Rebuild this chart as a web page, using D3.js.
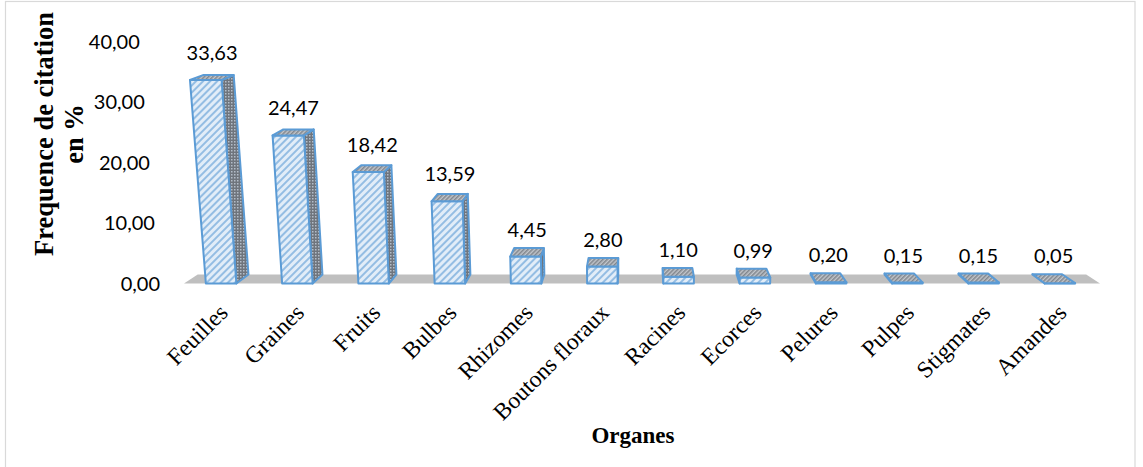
<!DOCTYPE html>
<html>
<head>
<meta charset="utf-8">
<script src="https://cdn.jsdelivr.net/npm/d3@7"></script>
<style>
  html, body { margin: 0; padding: 0; background: #fff; }
  svg { display: block; }
</style>
</head>
<body>
<svg id="chart" width="1143" height="467"></svg>
<script>
// Organes utilisés : fréquence de citation (%)
const organes = ["Feuilles", "Graines", "Fruits", "Bulbes", "Rhizomes", "Boutons floraux",
                 "Racines", "Ecorces", "Pelures", "Pulpes", "Stigmates", "Amandes"];
const frequences = [33.63, 24.47, 18.42, 13.59, 4.45, 2.80, 1.10, 0.99, 0.20, 0.15, 0.15, 0.05];
const yTicks = [0, 10, 20, 30, 40];

const W = 1143, H = 467;
const svg = d3.select("#chart");

const fr = d3.formatLocale({ decimal: ",", thousands: " ", grouping: [3], currency: ["", " €"] });
const fmt = fr.format(".2f");

// Scales
const x = d3.scaleBand().domain(organes).range([183, 1098]).paddingInner(0.6).paddingOuter(0.3);
const y = d3.scaleLinear().domain([0, 40]).range([283.5, 41.5]);
const y0 = y(0);

// Simple perspective: camera above the centre, looking slightly down
const xv = 640, kh = 0.00018, kd = 0.03, depthPx = 9;
function proj(px, h, d) {
  const p = 1 + kh * h - kd * d;
  return [xv + (px - xv) * p, y0 - h - d * depthPx * (1 - h / 450)];
}
const poly = pts => pts.map(p => p.join(",")).join(" ");

// Fill patterns
const defs = svg.append("defs");
const pFront = defs.append("pattern").attr("id", "hatchFront").attr("patternUnits", "userSpaceOnUse")
  .attr("width", 5).attr("height", 5).attr("patternTransform", "rotate(45)");
pFront.append("rect").attr("width", 5).attr("height", 5).attr("fill", "#e2edf8");
pFront.append("line").attr("x1", 1).attr("y1", 0).attr("x2", 1).attr("y2", 5)
  .attr("stroke", "#6aa3d8").attr("stroke-width", 1.3);

const pSide = defs.append("pattern").attr("id", "dotSide").attr("patternUnits", "userSpaceOnUse")
  .attr("width", 3).attr("height", 3);
pSide.append("rect").attr("width", 3).attr("height", 3).attr("fill", "#6f757d");
pSide.append("rect").attr("x", 0).attr("y", 0).attr("width", 1.5).attr("height", 1.5).attr("fill", "#b3bdc9");

const pTop = defs.append("pattern").attr("id", "hatchTop").attr("patternUnits", "userSpaceOnUse")
  .attr("width", 3).attr("height", 3).attr("patternTransform", "rotate(45)");
pTop.append("rect").attr("width", 3).attr("height", 3).attr("fill", "#c2c6cc");
pTop.append("line").attr("x1", 0.8).attr("y1", 0).attr("x2", 0.8).attr("y2", 3)
  .attr("stroke", "#7b8087").attr("stroke-width", 1.4);

// Chart frame
svg.append("rect").attr("x", 5.5).attr("y", 1.5).attr("width", 1129.5).attr("height", 470)
  .attr("fill", "#fff").attr("stroke", "#d9d9d9").attr("stroke-width", 1.2);

// Floor
svg.append("polygon")
  .attr("points", poly([proj(184, 0, 0), proj(1100, 0, 0), proj(1100, 0, 1), proj(184, 0, 1)]))
  .attr("fill", "#bfbfbf");

// Bars
const stroke = "#5b9bd5";
const bars = svg.append("g").selectAll("g").data(organes.map((o, i) => ({ o, v: frequences[i] })))
  .join("g");

bars.each(function(d) {
  const g = d3.select(this);
  const x0 = x(d.o), x1 = x0 + x.bandwidth();
  const h = y0 - y(d.v);
  const FBL = proj(x0, 0, 0), FBR = proj(x1, 0, 0), FTR = proj(x1, h, 0), FTL = proj(x0, h, 0);
  const BBL = proj(x0, 0, 1), BBR = proj(x1, 0, 1), BTR = proj(x1, h, 1), BTL = proj(x0, h, 1);
  const style = sel => sel.attr("stroke", stroke).attr("stroke-width", 2).attr("stroke-linejoin", "round");
  if (x1 < xv) style(g.append("polygon").attr("points", poly([FBR, FTR, BTR, BBR])).attr("fill", "url(#dotSide)"));
  if (x0 > xv) style(g.append("polygon").attr("points", poly([FBL, FTL, BTL, BBL])).attr("fill", "url(#dotSide)"));
  style(g.append("polygon").attr("points", poly([FBL, FBR, FTR, FTL])).attr("fill", "url(#hatchFront)"));
  style(g.append("polygon").attr("points", poly([FTL, FTR, BTR, BTL])).attr("fill", "url(#hatchTop)"));

  // Value label above the bar
  const c = proj((x0 + x1) / 2, h, 0.5);
  g.append("text").attr("x", c[0]).attr("y", y(d.v) - 20)
    .attr("text-anchor", "middle")
    .attr("font-family", "Lato, 'Open Sans', sans-serif").attr("font-size", 20).attr("fill", "#000")
    .text(fmt(d.v));
});

// Value axis (labels only), shifted with the perspective
const yAxis = svg.append("g")
  .call(d3.axisLeft(y).tickValues(yTicks).tickFormat(fmt).tickSize(0).tickPadding(0));
yAxis.select(".domain").remove();
yAxis.selectAll(".tick").attr("transform", v => {
  const p = proj(175, y0 - y(v), 0);
  return `translate(${p[0] - 15},${y(v)})`;
});
yAxis.selectAll("text").attr("font-family", "Lato, 'Open Sans', sans-serif").attr("font-size", 20)
  .attr("fill", "#000").attr("dy", "0.35em");

// Category axis
const xAxis = svg.append("g").attr("transform", "translate(0,314)")
  .call(d3.axisBottom(x).tickSize(0).tickPadding(0));
xAxis.select(".domain").remove();
xAxis.selectAll("text")
  .attr("font-family", "'Liberation Serif', 'Times New Roman', serif").attr("font-size", 23.5)
  .attr("fill", "#000").attr("text-anchor", "end").attr("dy", 0).attr("y", 0)
  .attr("transform", "translate(8,0) rotate(-45)");

// Axis titles
svg.append("text").attr("x", 633).attr("y", 443).attr("text-anchor", "middle")
  .attr("font-family", "'Liberation Serif', 'Times New Roman', serif").attr("font-weight", "bold")
  .attr("font-size", 23).text("Organes");

const yTitle = svg.append("text").attr("transform", "translate(53,134) rotate(-90)")
  .attr("text-anchor", "middle")
  .attr("font-family", "'Liberation Serif', 'Times New Roman', serif").attr("font-weight", "bold")
  .attr("font-size", 26.5);
yTitle.append("tspan").attr("x", 0).attr("y", 0).text("Frequence de citation");
yTitle.append("tspan").attr("x", 0).attr("y", 30).text("en %");
</script>
</body>
</html>
